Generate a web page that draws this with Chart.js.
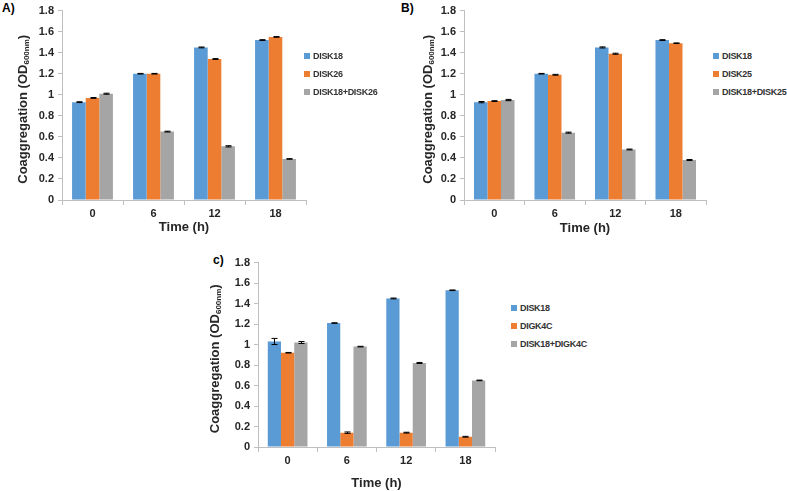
<!DOCTYPE html>
<html>
<head>
<meta charset="utf-8">
<script src="https://cdn.jsdelivr.net/npm/chart.js@4.4.1/dist/chart.umd.min.js"></script>
<style>
    body { margin: 0; background: #fff; width: 787px; height: 491px; position: relative; overflow: hidden; font-family: "Liberation Sans", Arial, sans-serif; }
    .panel { position: absolute; }
    .tag { position: absolute; font-weight: bold; font-size: 12px; color: #000; }
    .legend { position: absolute; font-size: 9px; font-weight: bold; letter-spacing: -0.3px; color: #333; }
    .legend div { height: 18px; line-height: 10px; white-space: nowrap; }
    .legend span { display: inline-block; width: 6px; height: 6px; margin-right: 3px; vertical-align: 0; }
</style>
</head>
<body>
<div class="tag" style="left:2px; top:1px;">A)</div>
<div class="tag" style="left:401px; top:1px;">B)</div>
<div class="tag" style="left:213px; top:253px;">c)</div>

<div class="panel" style="left:0; top:0; width:310px; height:240px;"><canvas id="chartA"></canvas></div>
<div class="panel" style="left:402px; top:0; width:308px; height:240px;"><canvas id="chartB"></canvas></div>
<div class="panel" style="left:196px; top:252px; width:303px; height:239px;"><canvas id="chartC"></canvas></div>

<div class="legend" id="legendA" style="left:304px; top:51px;"></div>
<div class="legend" id="legendB" style="left:713px; top:51px;"></div>
<div class="legend" id="legendC" style="left:511px; top:303px;"></div>

<script>
const timeLabels = ['0', '6', '12', '18'];

// Panel A
const namesA = ['DISK18', 'DISK26', 'DISK18+DISK26'];
const disk18A = [0.93, 1.20, 1.45, 1.52];
const disk26A = [0.97, 1.20, 1.34, 1.55];
const mixA = [1.01, 0.65, 0.51, 0.39];
const errA = [[0.004, 0.003, 0.004, 0.004], [0.004, 0.003, 0.004, 0.004], [0.005, 0.004, 0.006, 0.003]];

// Panel B
const namesB = ['DISK18', 'DISK25', 'DISK18+DISK25'];
const disk18B = [0.93, 1.20, 1.45, 1.52];
const disk25B = [0.94, 1.19, 1.39, 1.49];
const mixB = [0.95, 0.64, 0.48, 0.38];
const errB = [[0.006, 0.003, 0.005, 0.004], [0.004, 0.004, 0.005, 0.003], [0.006, 0.005, 0.004, 0.005]];

// Panel C
const namesC = ['DISK18', 'DIGK4C', 'DISK18+DIGK4C'];
const disk18C = [1.03, 1.21, 1.45, 1.53];
const digk4cC = [0.92, 0.14, 0.14, 0.10];
const mixC = [1.02, 0.98, 0.82, 0.65];
const errC = [[0.03, 0.003, 0.004, 0.003], [0.003, 0.007, 0.004, 0.004], [0.01, 0.003, 0.005, 0.003]];

const yTicks = { min: 0, max: 1.8, step: 0.2 };

const seriesColors = ['#5B9BD5', '#ED7D31', '#A5A5A5'];
const axisColor = '#BFBFBF';
const textColor = '#262626';
const fontFamily = '"Liberation Sans", Arial, sans-serif';

// error bars drawn through the y scale
const errorBarPlugin = {
    id: 'errorBars',
    afterDatasetsDraw(chart, args, opts) {
        const ctx = chart.ctx;
        const yScale = chart.scales.y;
        ctx.save();
        ctx.strokeStyle = '#000';
        ctx.lineWidth = 1;
        chart.data.datasets.forEach((ds, di) => {
            const meta = chart.getDatasetMeta(di);
            meta.data.forEach((bar, i) => {
                const e = opts.errors[di][i];
                const v = ds.data[i];
                const x = Math.round(bar.x) + 0.5;
                const y1 = yScale.getPixelForValue(v + e);
                const y2 = yScale.getPixelForValue(v - e);
                ctx.beginPath();
                ctx.moveTo(x, y1);
                ctx.lineTo(x, y2);
                ctx.moveTo(x - 3, y1);
                ctx.lineTo(x + 3, y1);
                ctx.moveTo(x - 3, y2);
                ctx.lineTo(x + 3, y2);
                ctx.stroke();
            });
        });
        ctx.restore();
    }
};

// y title with a subscript
const yTitlePlugin = {
    id: 'yTitle',
    afterDraw(chart, args, opts) {
        const ctx = chart.ctx;
        const area = chart.chartArea;
        const main = 'Coaggregation (OD';
        const sub = '600nm';
        const end = ')';
        ctx.save();
        ctx.fillStyle = textColor;
        ctx.translate(area.left + opts.dx, (area.top + area.bottom) / 2 + opts.dy);
        ctx.rotate(-Math.PI / 2);
        ctx.font = 'bold 13px ' + fontFamily;
        const w1 = ctx.measureText(main).width;
        const w3 = ctx.measureText(end).width;
        ctx.font = 'bold 8px ' + fontFamily;
        const w2 = ctx.measureText(sub).width;
        let x = -(w1 + w2 + w3) / 2;
        ctx.textBaseline = 'middle';
        ctx.font = 'bold 13px ' + fontFamily;
        ctx.fillText(main, x, 0);
        x += w1;
        ctx.font = 'bold 8px ' + fontFamily;
        ctx.fillText(sub, x, 4);
        x += w2;
        ctx.font = 'bold 13px ' + fontFamily;
        ctx.fillText(end, x, 0);
        ctx.restore();
    }
};

function makeChart(id, names, series, errors, cfg) {
    const ctx = document.getElementById(id).getContext('2d');
    return new Chart(ctx, {
        type: 'bar',
        data: {
            labels: timeLabels,
            datasets: series.map((s, i) => ({
                label: names[i],
                data: s,
                backgroundColor: seriesColors[i],
                borderWidth: 0,
                categoryPercentage: 0.67,
                barPercentage: 1
            }))
        },
        plugins: [errorBarPlugin, yTitlePlugin],
        options: {
            responsive: true,
            maintainAspectRatio: false,
            animation: false,
            layout: { padding: { top: 7, right: 4, left: 0, bottom: 0 } },
            plugins: {
                legend: { display: false },
                tooltip: { enabled: false },
                errorBars: { errors: errors },
                yTitle: { dx: cfg.titleDx, dy: cfg.titleDy }
            },
            scales: {
                x: {
                    afterFit: scale => { scale.height = cfg.xHeight; },
                    grid: { drawOnChartArea: false, offset: true, tickLength: 5, color: axisColor },
                    border: { color: axisColor },
                    ticks: { color: textColor, font: { family: fontFamily, size: 11, weight: 'bold' }, padding: 2 },
                    title: {
                        display: true,
                        text: 'Time (h)',
                        color: textColor,
                        font: { family: fontFamily, size: 13, weight: 'bold' },
                        padding: { top: 0, bottom: cfg.xTitlePad }
                    }
                },
                y: {
                    min: yTicks.min,
                    max: yTicks.max,
                    afterFit: scale => { scale.width = 62; },
                    grid: { drawOnChartArea: false, tickLength: 4, color: axisColor },
                    border: { color: axisColor },
                    ticks: {
                        stepSize: yTicks.step,
                        color: textColor,
                        font: { family: fontFamily, size: 11, weight: 'bold' },
                        padding: 4,
                        callback: v => String(+v.toFixed(1))
                    }
                }
            }
        }
    });
}

function makeLegend(id, names) {
    document.getElementById(id).innerHTML = names.map((n, i) =>
        `<div><span style="background:${seriesColors[i]}"></span>${n}</div>`).join('');
}

makeChart('chartA', namesA, [disk18A, disk26A, mixA], errA, { xHeight: 40, xTitlePad: 5, titleDx: -39, titleDy: 4 });
makeChart('chartB', namesB, [disk18B, disk25B, mixB], errB, { xHeight: 40, xTitlePad: 4, titleDx: -36, titleDy: 4 });
makeChart('chartC', namesC, [disk18C, digk4cC, mixC], errC, { xHeight: 44, xTitlePad: 0, titleDx: -43, titleDy: 4 });

makeLegend('legendA', namesA);
makeLegend('legendB', namesB);
makeLegend('legendC', namesC);
</script>
</body>
</html>
